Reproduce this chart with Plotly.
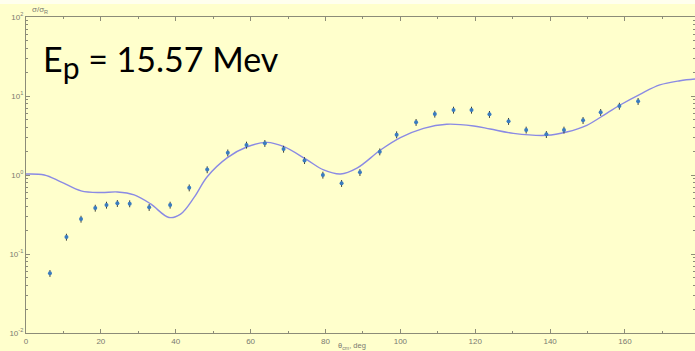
import plotly.graph_objects as go

# Measured elastic cross-section ratio sigma/sigma_R vs c.m. angle
theta_exp = [6.4, 10.8, 14.7, 18.5, 21.5, 24.4, 27.7, 32.9, 38.5, 43.6, 48.4, 53.9,
             58.9, 63.8, 68.8, 74.4, 79.3, 84.3, 89.2, 94.5, 99.0, 104.2, 109.2, 114.2,
             119.0, 123.8, 128.9, 133.6, 139.0, 143.7, 148.8, 153.5, 158.5, 163.5]
ratio_exp = [0.057, 0.164, 0.277, 0.382, 0.417, 0.438, 0.434, 0.39, 0.417, 0.69, 1.17, 1.91,
             2.40, 2.52, 2.13, 1.53, 1.00, 0.785, 1.08, 1.97, 3.24, 4.65, 5.92, 6.65,
             6.65, 5.87, 4.79, 3.72, 3.27, 3.72, 4.92, 6.22, 7.46, 8.57]
err_percent = 10

# Calculated (model) curve
theta_calc = [0, 4.9, 9.3, 14.7, 20.0, 24.4, 28.9, 33.3, 38.2, 41.3, 44.9, 48.4, 53.8,
              59.1, 64.4, 68.9, 75.1, 79.5, 84.0, 88.4, 94.7, 100.0, 106.2, 112.4, 119.6,
              124.0, 130.2, 139.1, 144.4, 149.8, 155.1, 158.7, 164.0, 169.3, 174.7, 178.7]
ratio_calc = [1.03, 1.0, 0.82, 0.63, 0.60, 0.61, 0.56, 0.43, 0.29, 0.32, 0.52, 0.95, 1.66,
              2.28, 2.59, 2.28, 1.55, 1.16, 1.03, 1.22, 2.07, 2.97, 3.90, 4.39, 4.17,
              3.82, 3.37, 3.18, 3.50, 4.26, 6.04, 7.69, 10.5, 13.8, 15.6, 16.4]

x_major = [0, 20, 40, 60, 80, 100, 120, 140, 160]
y_major = [0.01, 0.1, 1, 10, 100]
y_labels = ["10<sup>-2</sup>", "10<sup>-1</sup>", "10<sup>0</sup>", "10<sup>1</sup>", "10<sup>2</sup>"]

BG = "#FFFFCC"
AX = "#8C8C78"
TXT = "#7A7A70"

fig = go.Figure()
fig.add_trace(go.Scatter(
    x=theta_calc, y=ratio_calc, mode="lines",
    line=dict(color="#8A8AE4", width=1.4, shape="spline", smoothing=1.0),
    hoverinfo="skip"))
fig.add_trace(go.Scatter(
    x=theta_exp, y=ratio_exp, mode="markers",
    marker=dict(color="#3A7CC0", size=4),
    error_y=dict(type="percent", value=err_percent, color="#3E3E36", thickness=1, width=0)))

minor_y = [m * 10 ** k for k in range(-2, 2) for m in range(2, 10)]

fig.update_layout(
    width=695, height=351,
    margin=dict(l=26, r=0, t=17, b=18),
    paper_bgcolor=BG, plot_bgcolor=BG,
    showlegend=False,
    font=dict(family="Liberation Sans", size=8, color=TXT),
    xaxis=dict(range=[0, 178.7], tickvals=x_major, ticks="inside", ticklen=4,
               tickcolor=AX, showgrid=False, zeroline=False, showline=True,
               linecolor=AX, linewidth=1.2, mirror="ticks",
               minor=dict(dtick=10, ticks="inside", ticklen=2, tickcolor=AX),
               tickfont=dict(size=8, color=TXT)),
    yaxis=dict(type="log", range=[-2, 2], tickvals=y_major, ticktext=y_labels,
               ticks="inside", ticklen=4, tickcolor=AX, showgrid=False,
               zeroline=False, showline=True, linecolor=AX, linewidth=1.2,
               mirror="ticks",
               minor=dict(tickvals=minor_y, ticks="inside", ticklen=2, tickcolor=AX),
               tickfont=dict(size=8, color=TXT)),
    shapes=[
        # pale strip along the very top edge
        dict(type="rect", xref="paper", yref="paper", x0=-0.05, x1=1.05,
             y0=1.041, y1=1.06, fillcolor="#FFFFEE", line=dict(width=0), layer="below"),
    ],
    annotations=[
        dict(text="E<sub><span style='font-size:30px'>p</span></sub> = 15.57 Mev",
             xref="paper", yref="paper",
             x=0.022, y=0.94, xanchor="left", yanchor="top", showarrow=False,
             font=dict(family="Lato", size=34, color="#000000")),
        dict(text="σ/σ<sub>R</sub>", xref="paper", yref="paper",
             x=0.006, y=1.0, xanchor="left", yanchor="bottom", showarrow=False,
             font=dict(size=8, color=TXT)),
        dict(text="θ<sub>cm</sub>, deg", xref="paper", yref="paper",
             x=0.488, y=-0.018, xanchor="center", yanchor="top", showarrow=False,
             font=dict(size=7.5, color=TXT)),
    ],
)

fig.write_html("out.html")
